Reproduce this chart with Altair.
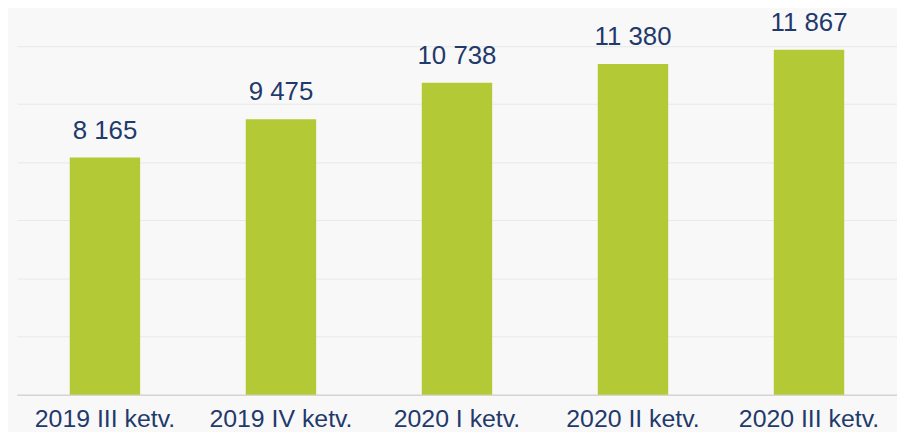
import altair as alt
import pandas as pd

categories = ["2019 III ketv.", "2019 IV ketv.", "2020 I ketv.", "2020 II ketv.", "2020 III ketv."]
values = [8165, 9475, 10738, 11380, 11867]

df = pd.DataFrame({
    "cat": categories,
    "val": values,
    "lbl": [f"{v:,}".replace(",", " ") for v in values],
})

FONT = "Liberation Sans"
NAVY = "#1f3a6b"

x = alt.X("cat:N", sort=categories, title=None,
          scale=alt.Scale(paddingInner=0.6, paddingOuter=0.3),
          axis=alt.Axis(labelAngle=0, labelFont=FONT, labelFontSize=25, labelColor=NAVY,
                        ticks=False, labelPadding=12, domainColor="#d6d6d6", domainWidth=1.5,
                        labelOverlap=False))
y = alt.Y("val:Q", title=None,
          scale=alt.Scale(domain=[0, 13256], nice=False, zero=True),
          axis=alt.Axis(values=[0, 2000, 4000, 6000, 8000, 10000, 12000], labels=False, ticks=False,
                        domain=False, grid=True, gridColor="#e9e9e9", gridWidth=1))

base = alt.Chart(df)
bars = base.mark_bar(color="#b3ca36").encode(x=x, y=y)
text = base.mark_text(font=FONT, fontSize=26, color=NAVY, baseline="alphabetic", dy=-19).encode(
    x=alt.X("cat:N", sort=categories), y="val:Q", text="lbl:N")

chart = (bars + text).properties(
    width=886, height=388,
    autosize=alt.AutoSizeParams(type="none"),
    padding={"left": 9, "top": 0, "right": 0, "bottom": 36},
    background="#f9f8f9",
).configure_view(stroke=None)

chart.save("out.html", embed_options={"renderer": "svg", "actions": False})
